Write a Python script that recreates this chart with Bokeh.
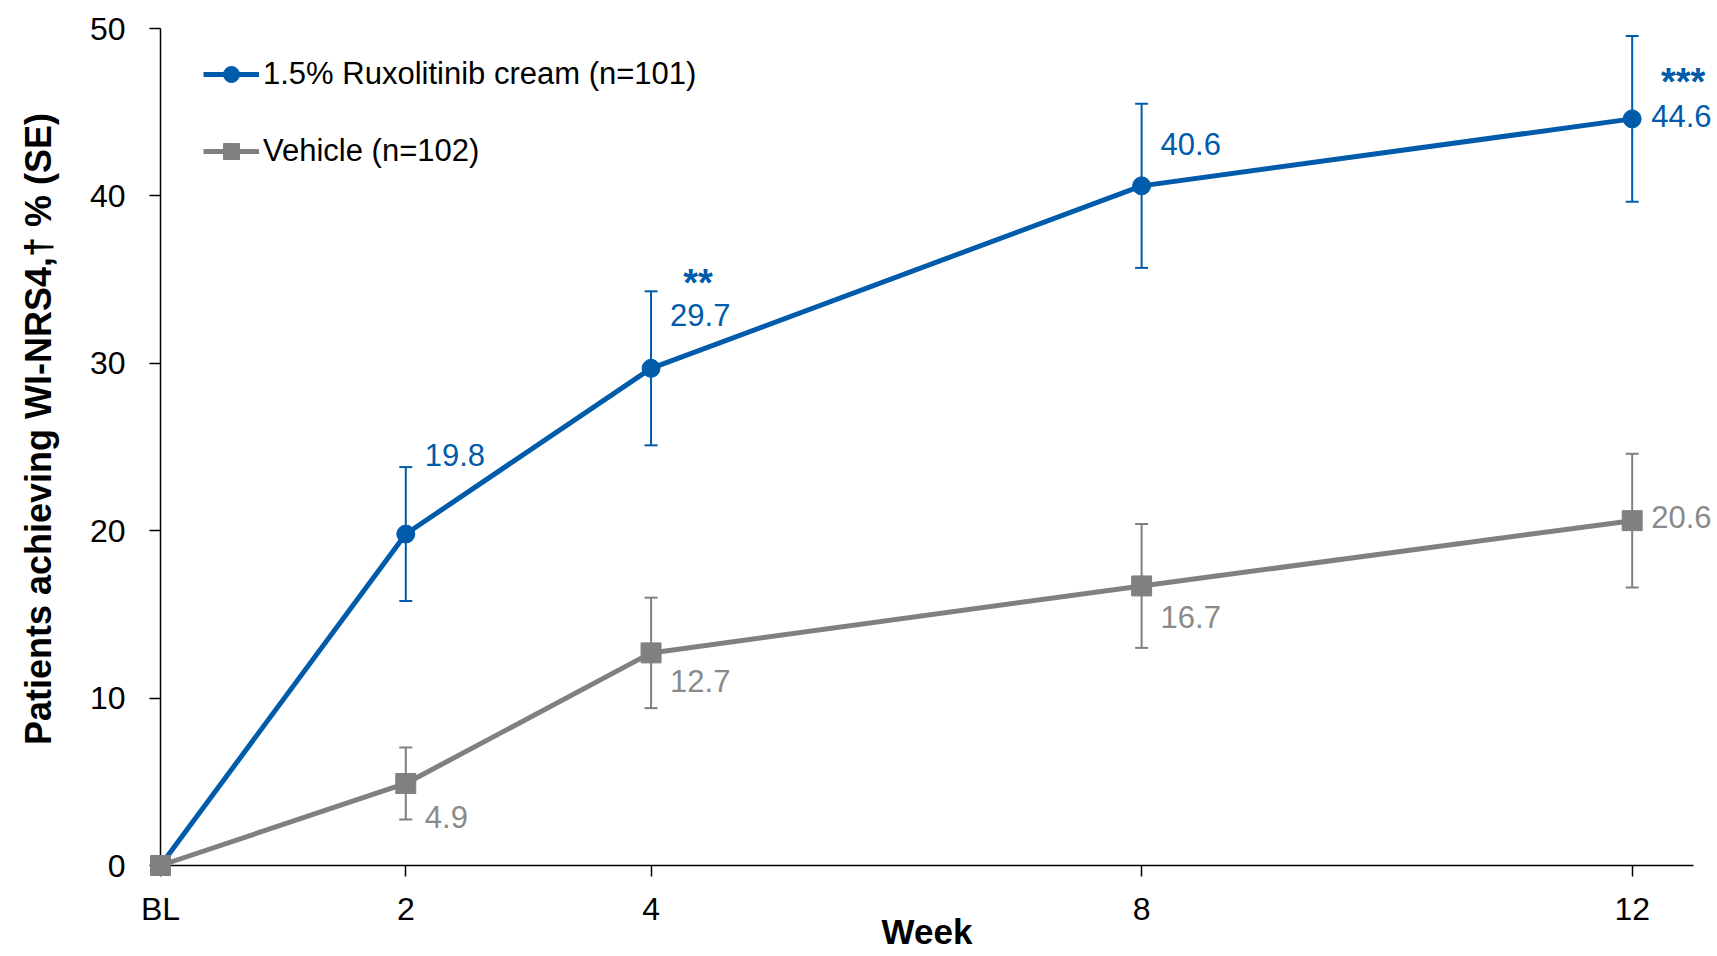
import math
from bokeh.plotting import figure
from bokeh.models import (ColumnDataSource, Whisker, TeeHead, FixedTicker, Legend,
                          LegendItem, Range1d)
from bokeh.core.properties import value
from bokeh.embed import file_html
from bokeh.resources import INLINE

# ---- data ----
weeks = [0, 2, 4, 8, 12]
week_labels = ["BL", "2", "4", "8", "12"]
rux = [0, 19.8, 29.7, 40.6, 44.6]
rux_se = [0, 4.0, 4.6, 4.9, 4.95]
rux_sig = ["", "", "**", "", "***"]
veh = [0, 4.9, 12.7, 16.7, 20.6]
veh_se = [0, 2.15, 3.3, 3.7, 4.0]
y_ticks = [0, 10, 20, 30, 40, 50]
x_title = "Week"
y_title = "Patients achieving WI-NRS4,\u2020 % (SE)"

# ---- styling (label offsets in screen px) ----
rux_lab_dx = [0, 19, 19, 19, 19]
rux_lab_dy = [0, -79, -53, -42, -3]
rux_sig_dx = [0, 0, 47, 0, 51]
rux_sig_dy = [0, 0, -85, 0, -37]
veh_lab_dx = [0, 19, 19, 19, 19]
veh_lab_dy = [0, 34, 28, 31, -4]

BLUE = "#005BAB"
GREY = "#808080"
GREY_TXT = "#8A8A8A"
FONT = "Liberation Sans"

p = figure(width=1717, height=954, x_range=Range1d(0, 12.5), y_range=Range1d(0, 50),
           output_backend="svg", toolbar_location=None,
           min_border_left=160, min_border_right=24, min_border_top=28, min_border_bottom=89)
p.outline_line_color = None
p.grid.visible = False
p.background_fill_color = "white"

# axes
for ax in (p.xaxis[0], p.yaxis[0]):
    ax.axis_line_color = "black"
    ax.axis_line_width = 1.5
    ax.major_tick_line_color = "black"
    ax.major_tick_line_width = 1.5
    ax.major_tick_in = 0
    ax.minor_tick_line_color = None
    ax.major_label_text_font = FONT
    ax.major_label_text_font_size = "32px"
    ax.major_label_text_color = "black"

p.xaxis.ticker = FixedTicker(ticks=weeks)
p.xaxis.major_label_overrides = {w: l for w, l in zip(weeks, week_labels)}
p.xaxis.major_tick_out = 11
p.xaxis.major_label_standoff = 14

p.yaxis.ticker = FixedTicker(ticks=y_ticks)
p.yaxis.major_tick_out = 11
p.yaxis.major_label_standoff = 24

# error bars (BL has no error bar)
def whisker(x, y, se, color):
    src = ColumnDataSource(dict(x=x[1:], lower=[a - b for a, b in zip(y[1:], se[1:])],
                                upper=[a + b for a, b in zip(y[1:], se[1:])]))
    w = Whisker(source=src, base="x", lower="lower", upper="upper",
                line_color=color, line_width=2,
                upper_head=TeeHead(size=13, line_color=color, line_width=2),
                lower_head=TeeHead(size=13, line_color=color, line_width=2))
    p.add_layout(w)

whisker(weeks, rux, rux_se, BLUE)
whisker(weeks, veh, veh_se, GREY)

# lines and markers
rb_line = p.line(weeks, rux, line_color=BLUE, line_width=5)
rb_pts = p.scatter(weeks, rux, marker="circle", size=18, fill_color=BLUE, line_color=BLUE)
vg_line = p.line(weeks, veh, line_color=GREY, line_width=5)
vg_pts = p.scatter(weeks, veh, marker="square", size=20, fill_color=GREY, line_color=GREY)
for r in (rb_line, rb_pts, vg_line, vg_pts):
    r.level = "overlay"

# value labels
rsrc = ColumnDataSource(dict(x=weeks[1:], y=rux[1:], t=[f"{v:.1f}" for v in rux[1:]],
                             dx=rux_lab_dx[1:], dy=rux_lab_dy[1:]))
t1 = p.text(x="x", y="y", text="t", x_offset="dx", y_offset="dy", source=rsrc,
            text_font=value(FONT), text_font_size="31px", text_color=BLUE,
            text_align="left", text_baseline="middle")
ssrc = ColumnDataSource(dict(x=weeks, y=rux, t=rux_sig, dx=rux_sig_dx, dy=rux_sig_dy))
t2 = p.text(x="x", y="y", text="t", x_offset="dx", y_offset="dy", source=ssrc,
            text_font=value(FONT), text_font_size="38px", text_font_style="bold",
            text_color=BLUE, text_align="center", text_baseline="middle")
vsrc = ColumnDataSource(dict(x=weeks[1:], y=veh[1:], t=[f"{v:.1f}" for v in veh[1:]],
                             dx=veh_lab_dx[1:], dy=veh_lab_dy[1:]))
t3 = p.text(x="x", y="y", text="t", x_offset="dx", y_offset="dy", source=vsrc,
            text_font=value(FONT), text_font_size="31px", text_color=GREY_TXT,
            text_align="left", text_baseline="middle")

# axis titles
xmid = (p.x_range.start + p.x_range.end) / 2
ymid = (p.y_range.start + p.y_range.end) / 2
t4 = p.text(x=[xmid], y=[p.y_range.start], text=[x_title], y_offset=[66],
            text_font=value(FONT), text_font_size="35px", text_font_style="bold",
            text_color="black", text_align="center", text_baseline="middle")
t5 = p.text(x=[p.x_range.start], y=[ymid], text=[y_title], x_offset=[-122], y_offset=[-18],
            angle=math.pi / 2, text_font=value(FONT), text_font_size="36px",
            text_font_style="bold", text_color="black", text_align="center",
            text_baseline="middle")
for r in (t1, t2, t3, t4, t5):
    r.level = "overlay"

legend = Legend(items=[LegendItem(label="1.5% Ruxolitinib cream (n=101)", renderers=[rb_line, rb_pts]),
                       LegendItem(label="Vehicle (n=102)", renderers=[vg_line, vg_pts])],
                location=(43, 694), border_line_color=None, background_fill_alpha=0,
                padding=0, margin=0, spacing=37, glyph_width=56, glyph_height=40,
                label_height=40, label_standoff=4, label_text_font=FONT,
                label_text_font_size="31px", label_text_color="black")
p.add_layout(legend)

open("out.html", "w").write(file_html(p, INLINE))
